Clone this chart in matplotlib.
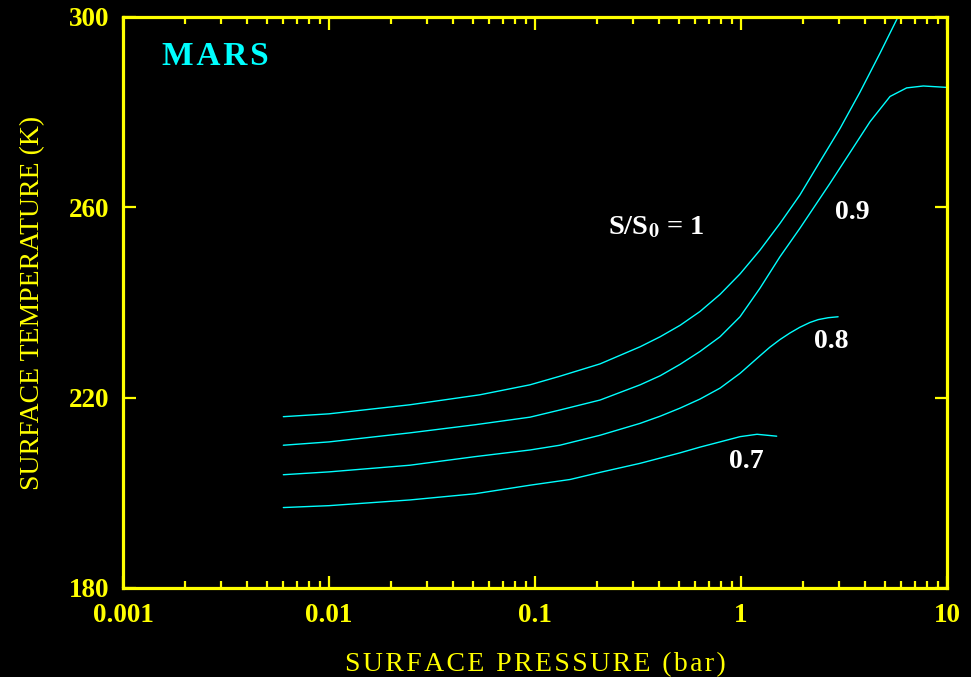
import matplotlib
matplotlib.use("Agg")
import matplotlib.pyplot as plt
from matplotlib.ticker import LogLocator, NullFormatter, FixedLocator

plt.rcParams["mathtext.fontset"] = "stix"

# Surface temperature (K) vs. surface pressure (bar) for several solar fluxes S/S0
p_s10 = [0.006, 0.01, 0.0247, 0.054, 0.0946, 0.132, 0.207, 0.324, 0.405, 0.506,
         0.632, 0.791, 0.989, 1.236, 1.545, 1.932, 2.416, 3.027, 3.78, 4.73, 5.78]
t_s10 = [216.0, 216.6, 218.5, 220.6, 222.7, 224.5, 227.1, 230.7, 232.8, 235.2,
         238.1, 241.7, 246.0, 251.0, 256.6, 262.6, 269.6, 276.6, 284.2, 292.4, 300.0]

p_s09 = [0.006, 0.01, 0.0247, 0.0511, 0.0946, 0.132, 0.207, 0.324, 0.405, 0.506,
         0.632, 0.791, 0.989, 1.236, 1.545, 1.932, 2.3, 2.70, 3.38, 4.23, 5.29,
         6.37, 7.67, 10.0]
t_s09 = [210.0, 210.7, 212.6, 214.3, 215.9, 217.4, 219.5, 222.7, 224.6, 227.0,
         229.7, 232.8, 237.0, 243.0, 249.6, 255.6, 260.5, 265.0, 271.5, 278.0, 283.3,
         285.1, 285.5, 285.2]

p_s08 = [0.006, 0.01, 0.0247, 0.0511, 0.0946, 0.132, 0.207, 0.324, 0.405, 0.506,
         0.632, 0.791, 0.989, 1.236, 1.38, 1.545, 1.73, 1.932, 2.16, 2.37, 2.65, 2.96]
t_s08 = [203.8, 204.4, 205.8, 207.6, 209.0, 210.0, 212.1, 214.6, 216.1, 217.8,
         219.7, 222.0, 225.1, 228.8, 230.6, 232.2, 233.6, 234.8, 235.8, 236.4, 236.8,
         237.0]

p_s07 = [0.006, 0.01, 0.0247, 0.0511, 0.0946, 0.148, 0.207, 0.324, 0.405, 0.506,
         0.632, 0.791, 0.989, 1.196, 1.49]
t_s07 = [196.9, 197.3, 198.5, 199.8, 201.6, 202.8, 204.3, 206.2, 207.3, 208.4,
         209.6, 210.7, 211.8, 212.3, 211.9]

x_ticks = [0.001, 0.01, 0.1, 1, 10]
x_ticklabels = ["0.001", "0.01", "0.1", "1", "10"]
y_ticks = [180, 220, 260, 300]
y_ticklabels = ["180", "220", "260", "300"]

YELLOW = "#ffff00"
CYAN = "#00ffff"
SERIF = ["Liberation Serif", "DejaVu Serif"]
HAIR = "\u200a"


def spaced(s):
    return HAIR.join(s)


fig = plt.figure(figsize=(9.71, 6.77), dpi=100, facecolor="black")
ax = fig.add_axes([0.1267, 0.1315, 0.8486, 0.8434], facecolor="black")

for p, t in [(p_s10, t_s10), (p_s09, t_s09), (p_s08, t_s08), (p_s07, t_s07)]:
    ax.plot(p, t, color=CYAN, lw=1.0, solid_capstyle="round",
            solid_joinstyle="round")

ax.set_xscale("log")
ax.set_xlim(0.001, 10)
ax.set_ylim(180, 300)

ax.xaxis.set_major_locator(FixedLocator(x_ticks))
ax.set_xticklabels(x_ticklabels)
ax.xaxis.set_minor_locator(LogLocator(base=10, subs=range(2, 10)))
ax.xaxis.set_minor_formatter(NullFormatter())
ax.yaxis.set_major_locator(FixedLocator(y_ticks))
ax.set_yticklabels(y_ticklabels)

for side in ax.spines.values():
    side.set_color(YELLOW)
    side.set_linewidth(2.3)

ax.tick_params(which="both", direction="in", colors=YELLOW, top=True, right=True,
               width=1.6)
ax.tick_params(which="major", length=9)
ax.tick_params(which="minor", length=5)
ax.tick_params(axis="x", which="major", pad=11)
ax.tick_params(axis="y", which="major", pad=10)

for lab in ax.get_xticklabels() + ax.get_yticklabels():
    lab.set_fontfamily(SERIF)
    lab.set_fontweight("bold")
    lab.set_fontsize(19.5)
    lab.set_color(YELLOW)

ax.set_xlabel(spaced("SURFACE PRESSURE (bar)"), color=YELLOW, fontsize=20,
              family=SERIF, labelpad=17)
ax.set_ylabel("SURFACE TEMPERATURE (K)", color=YELLOW, fontsize=20,
              family=SERIF, labelpad=17)

ax.text(0.047, 0.93, spaced("MARS"), transform=ax.transAxes, color=CYAN,
        fontsize=24, fontweight="bold", family=SERIF, ha="left", va="center")

ax.text(0.386, 255.7, r"S/S$_\mathbf{0}$ = 1", color="white", fontsize=20.5,
        fontweight="bold", family=SERIF, ha="center", va="center")
ax.text(3.46, 259.0, "0.9", color="white", fontsize=20, fontweight="bold",
        family=SERIF, ha="center", va="center")
ax.text(2.74, 231.9, "0.8", color="white", fontsize=20, fontweight="bold",
        family=SERIF, ha="center", va="center")
ax.text(1.06, 206.5, "0.7", color="white", fontsize=20, fontweight="bold",
        family=SERIF, ha="center", va="center")

fig.savefig("out.png", dpi=100, facecolor="black")
